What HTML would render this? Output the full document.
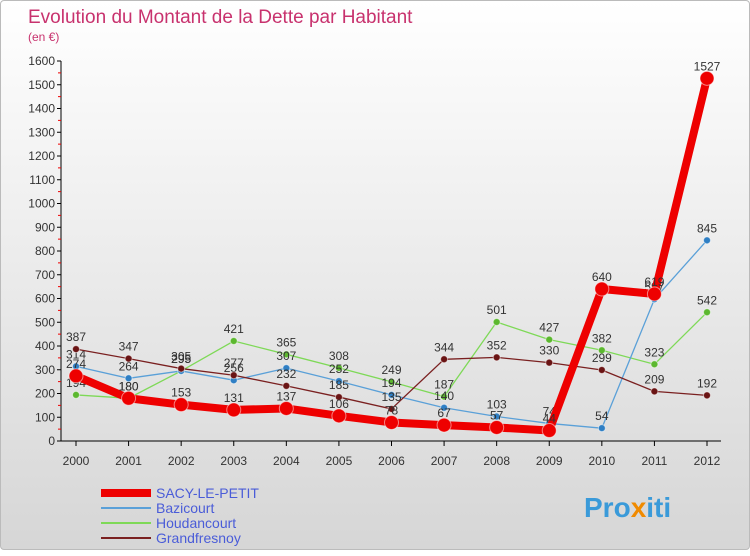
<!DOCTYPE html>
<html><head><meta charset="utf-8"><style>
body{margin:0;width:750px;height:550px;overflow:hidden;font-family:"Liberation Sans",sans-serif}
#wrap{position:relative;width:748px;height:548px;border:1px solid #bbb;background:linear-gradient(#fff,#d6d6d6);border-radius:4px}
</style></head><body>
<div id="wrap">
<svg id="chart" width="750" height="550">
<text x="27" y="22" font-size="19" fill="#c8326e">Evolution du Montant de la Dette par Habitant</text>
<text x="27" y="40" font-size="12" fill="#c8326e">(en €)</text>
<g id="axes"></g><g id="series"></g><g id="legend"></g>
<text x="583" y="516" font-size="28" font-weight="bold" fill="#3a9ad9">Pro<tspan fill="#f08a00">x</tspan>iti</text>
</svg></div>
<script>
const years=[2000,2001,2002,2003,2004,2005,2006,2007,2008,2009,2010,2011,2012];
const yTicks=[0,100,200,300,400,500,600,700,800,900,1000,1100,1200,1300,1400,1500,1600];
const sacy=[274,180,153,131,137,106,78,67,57,44,640,619,1527];
const bazicourt=[314,264,295,256,307,252,194,140,103,74,54,597,845];
const houdancourt=[194,180,295,421,365,308,249,187,501,427,382,323,542];
const grandfresnoy=[387,347,305,277,232,185,135,344,352,330,299,209,192];
const seriesNames=["SACY-LE-PETIT","Bazicourt","Houdancourt","Grandfresnoy"];
const NS="http://www.w3.org/2000/svg";
const x=i=>75+i*(706-75)/(years.length-1);
const y=v=>440-v*(380/1600);
function mk(t,a,p){const e=document.createElementNS(NS,t);for(const k in a)e.setAttribute(k,a[k]);p.appendChild(e);return e;}
const ax=document.getElementById('axes');
let l=mk('line',{x1:60,y1:60,x2:60,y2:440,stroke:'#000'},ax);

l=mk('line',{x1:60,y1:440,x2:720,y2:440,stroke:'#000'},ax);

yTicks.forEach(v=>{mk('line',{x1:56,y1:y(v),x2:60,y2:y(v),stroke:'#000'},ax);
 if(v<1600)mk('line',{x1:57,y1:y(v+50),x2:60,y2:y(v+50),stroke:'#e00'},ax);
 const t=mk('text',{x:54,y:y(v)+4,'text-anchor':'end','font-size':12,fill:'#333'},ax);t.textContent=v;
 });
years.forEach((yr,i)=>{mk('line',{x1:x(i),y1:440,x2:x(i),y2:445,stroke:'#000'},ax);
 const t=mk('text',{x:x(i),y:464,'text-anchor':'middle','font-size':12,fill:'#333'},ax);t.textContent=yr;
 });
const sg=document.getElementById('series');
const defs=[[houdancourt,'#7ed957','#5cb82f',1.3,3.5,'houdancourt'],[bazicourt,'#5aa0d8','#2f7fc4',1.3,3.5,'bazicourt'],[grandfresnoy,'#7a2020','#6a1414',1.3,3.5,'grandfresnoy'],[sacy,'#ee0000','#ee0000',8,7,'sacy-le-petit']];
defs.forEach(([d,c,fc,w,r,n])=>{
 const g=mk('g',{},sg);
 const p=mk('polyline',{points:d.map((v,i)=>x(i)+','+y(v)).join(' '),fill:'none',stroke:c,'stroke-width':w,'stroke-linejoin':'round'},g);
 
 d.forEach((v,i)=>{const pt=mk('circle',{cx:x(i),cy:y(v),r:r,fill:fc,stroke:'#fff','stroke-opacity':0.5},g);
  
  const t=mk('text',{x:x(i),y:y(v)-8,'text-anchor':'middle','font-size':12,fill:'#333'},g);t.textContent=v;
  });
});
const lg=document.getElementById('legend');
const lc=['#ee0000','#5aa0d8','#7ed957','#7a2020'],lw=[8,2,2,2];
seriesNames.forEach((s,i)=>{const yy=492+i*15;
 const g=mk('g',{},lg);
 mk('line',{x1:100,y1:yy,x2:150,y2:yy,stroke:lc[i],'stroke-width':lw[i]},g);
 const t=mk('text',{x:155,y:yy+5,'font-size':14,fill:'#4a5cd8'},g);t.textContent=s;});
</script></body></html>
